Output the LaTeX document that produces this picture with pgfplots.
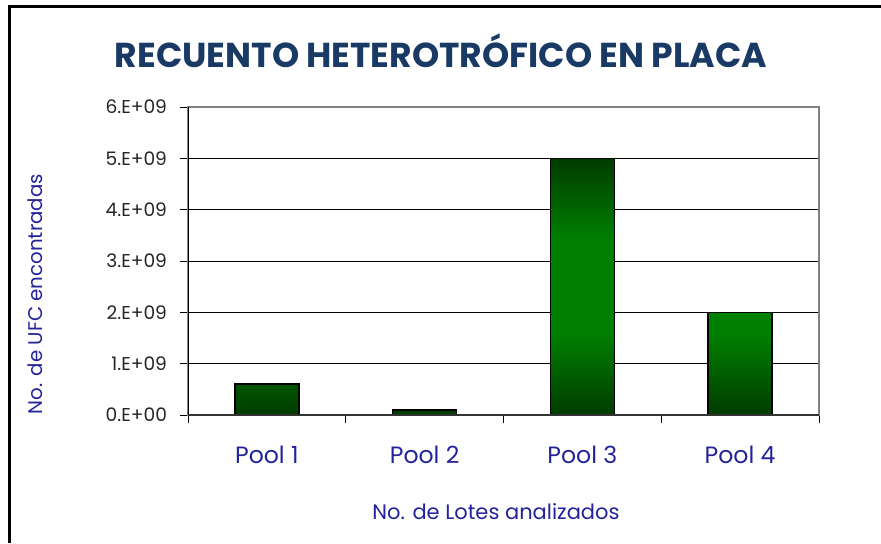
\documentclass[border=0pt]{standalone}
\usepackage{fontspec}
\setmainfont{Poppins}
\usepackage{pgfplots}
\pgfplotsset{compat=1.18}
\definecolor{titleblue}{HTML}{1A3A66}
\definecolor{labelblue}{HTML}{23239A}
\definecolor{bardark}{HTML}{003C00}
\definecolor{barmid}{HTML}{008000}
\pgfdeclareverticalshading{barshade}{100bp}{color(0bp)=(bardark); color(25bp)=(bardark); color(41bp)=(barmid); color(59bp)=(barmid); color(75bp)=(bardark); color(100bp)=(bardark)}
\begin{document}
\begin{tikzpicture}
\path[use as bounding box] (0pt,0pt) rectangle (440.5pt,271.5pt);
% frame (left and top edges only visible)
\draw[line width=1.5pt,black] (4.5pt,0pt) -- (4.5pt,268.5pt) -- (440.5pt,268.5pt);
\node[font=\bfseries\fontsize{17.3}{19}\selectfont,text=titleblue] at (220.5pt,246pt) {RECUENTO HETEROTRÓFICO EN PLACA};
\node[rotate=90,font=\fontsize{9.9}{11}\selectfont,text=labelblue] at (17.5pt,124.5pt) {No. de UFC encontradas};
\node[font=\fontsize{10.5}{12}\selectfont,text=labelblue] at (248pt,15.5pt) {No. de Lotes analizados};
\begin{axis}[
    at={(94pt,64pt)},
    anchor=south west,
    scale only axis,
    width=315.5pt,
    height=154pt,
    ybar,
    bar width=32pt,
    xmin=-0.5,xmax=3.5,
    ymin=0,ymax=6e9,
    xtick={0,1,2,3},
    xticklabels={Pool 1,Pool 2,Pool 3,Pool 4},
    minor xtick={-0.5,0.5,1.5,2.5,3.5},
    x tick style={draw=none},
    minor x tick style={draw=black,line width=0.5pt},
    minor tick length=4pt,
    ytick={0,1e9,2e9,3e9,4e9,5e9,6e9},
    yticklabels={0.E+00,1.E+09,2.E+09,3.E+09,4.E+09,5.E+09,6.E+09},
    y tick style={draw=black,line width=0.5pt},
    major tick length=4pt,
    tick align=outside,
    xtick pos=bottom,
    ytick pos=left,
    scaled y ticks=false,
    ymajorgrids,
    grid style={black,line width=0.5pt},
    axis line style={draw=gray,line width=1pt},
    x tick label style={font=\fontsize{11.8}{13}\selectfont,text=labelblue,yshift=-8pt},
    y tick label style={font=\fontsize{9.3}{11}\selectfont,text=black!85,xshift=-3pt},
]
\addplot[draw=black,line width=0.8pt,shading=barshade]
    coordinates {(0,6e8) (1,1e8) (2,5e9) (3,2e9)};
\draw[black,line width=0.6pt] (axis cs:-0.5,0) -- (axis cs:-0.5,6e9);
\draw[black!80,line width=0.8pt] (axis cs:-0.5,0) -- (axis cs:3.5,0);
\end{axis}
\end{tikzpicture}
\end{document}
